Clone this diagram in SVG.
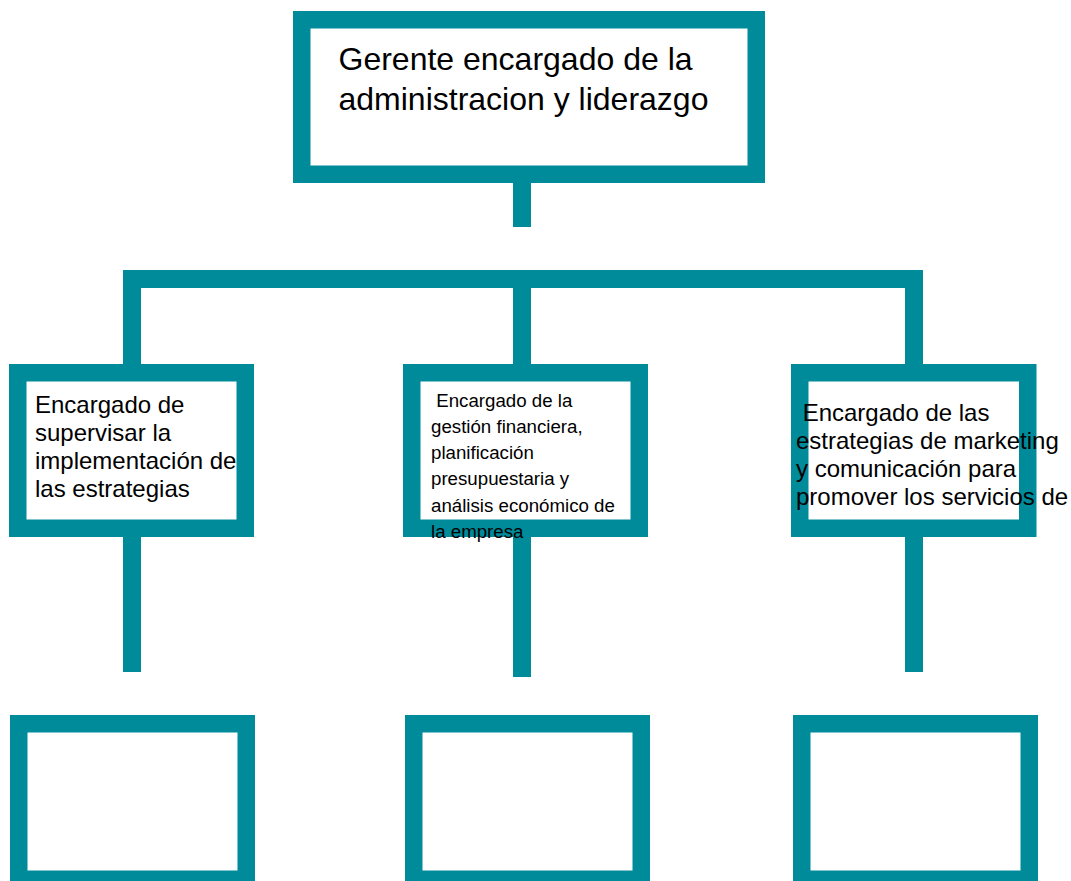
<svg xmlns="http://www.w3.org/2000/svg" width="1071" height="881" viewBox="0 0 1071 881">
<style>
.frame{fill:#ffffff;stroke:#008B9B;stroke-width:17.5}
.conn{fill:none;stroke:#008B9B;stroke-width:18;stroke-linejoin:miter;stroke-linecap:butt}
.t{font-family:"Liberation Sans",Arial,sans-serif;fill:#000000}
.t32{font-size:32px}
.t24{font-size:24px}
.t18{font-size:18.7px}
</style>
<rect width="1071" height="881" fill="#ffffff"/>
<g id="connectors">
<path class="conn" d="M522,183 V227"/>
<path class="conn" d="M132,364 V279 H914 V364"/>
<path class="conn" d="M522,279 V364"/>
<path class="conn" d="M132,537 V672"/>
<path class="conn" d="M522,537 V677"/>
<path class="conn" d="M914,537 V672"/>
</g>
<g id="node-gerente">
<rect class="frame" x="301.75" y="19.75" width="454.5" height="154.5"/>
<text class="t t32" x="338.5" y="70">Gerente encargado de la</text>
<text class="t t32" x="338.5" y="110">administracion y liderazgo</text>
</g>
<g id="node-supervisar">
<rect class="frame" x="17.75" y="372.75" width="227.5" height="155.5"/>
<text class="t t24" x="35" y="413">Encargado de</text>
<text class="t t24" x="35" y="441">supervisar la</text>
<text class="t t24" x="35" y="469">implementación de</text>
<text class="t t24" x="35" y="497">las estrategias</text>
</g>
<g id="node-finanzas">
<rect class="frame" x="411.75" y="372.75" width="227.5" height="155.5"/>
<text class="t t18" x="431" y="406.5" xml:space="preserve"> Encargado de la</text>
<text class="t t18" x="431" y="432.8">gestión financiera,</text>
<text class="t t18" x="431" y="459.1">planificación</text>
<text class="t t18" x="431" y="485.4">presupuestaria y</text>
<text class="t t18" x="431" y="511.7">análisis económico de</text>
<text class="t t18" x="431" y="538">la empresa</text>
</g>
<g id="node-marketing">
<rect class="frame" x="799.75" y="372.75" width="228" height="155.5"/>
<text class="t t24" x="796" y="421" xml:space="preserve"> Encargado de las</text>
<text class="t t24" x="796" y="449">estrategias de marketing</text>
<text class="t t24" x="796" y="477">y comunicación para</text>
<text class="t t24" x="796" y="505">promover los servicios de</text>
</g>
<g id="node-empty-1">
<rect class="frame" x="18.75" y="723.75" width="227.5" height="155.5"/>
</g>
<g id="node-empty-2">
<rect class="frame" x="413.75" y="723.75" width="227.5" height="155.5"/>
</g>
<g id="node-empty-3">
<rect class="frame" x="801.75" y="723.75" width="227.5" height="155.5"/>
</g>
</svg>
